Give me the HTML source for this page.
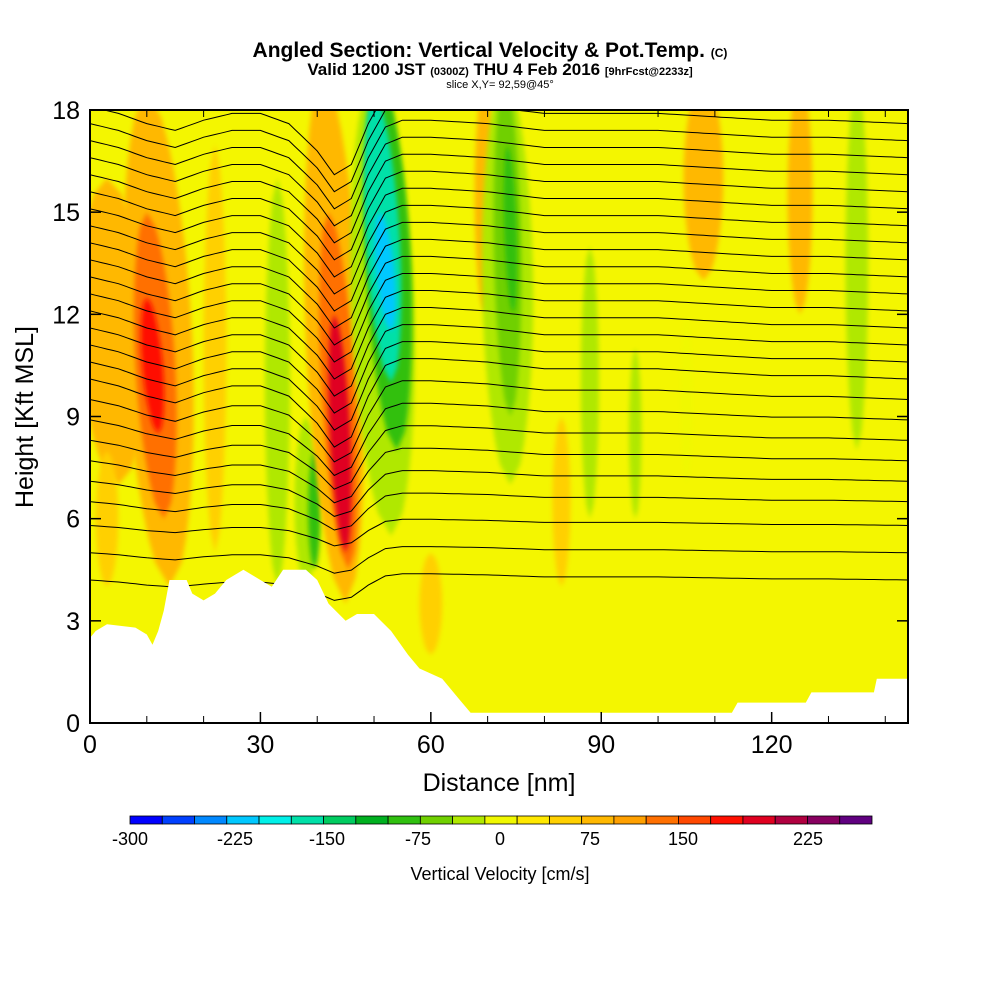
<!DOCTYPE html>
<html><head><meta charset="utf-8"><style>
body{margin:0;background:#fff;width:1000px;height:1000px;overflow:hidden;font-family:"Liberation Sans",sans-serif}
svg text{font-family:"Liberation Sans",sans-serif}
</style></head><body>
<svg id="chart" width="1000" height="1000" viewBox="0 0 1000 1000" xmlns="http://www.w3.org/2000/svg">
<defs>
<clipPath id="pc"><rect x="90" y="110" width="818" height="613"/></clipPath>
<filter id="bl" x="-50%" y="-20%" width="200%" height="140%"><feGaussianBlur stdDeviation="2.5"/></filter>
</defs>
<g>
<text x="490" y="57" text-anchor="middle" font-size="21" font-weight="bold">Angled Section: Vertical Velocity &amp; Pot.Temp. <tspan font-size="12">(C)</tspan></text>
<text x="500" y="75" text-anchor="middle" font-size="17" font-weight="bold">Valid 1200 JST <tspan font-size="11">(0300Z)</tspan> THU 4 Feb 2016 <tspan font-size="11">[9hrFcst@2233z]</tspan></text>
<text x="500" y="88" text-anchor="middle" font-size="11">slice X,Y= 92,59@45°</text>
</g>
<rect x="90" y="110" width="818" height="613" fill="#f4f600"/>
<g id="field" clip-path="url(#pc)"></g>
<g id="cont" clip-path="url(#pc)" fill="none" stroke="#000" stroke-width="1"></g>
<g id="terr" clip-path="url(#pc)"></g>
<rect x="90" y="110" width="818" height="613" fill="none" stroke="#000" stroke-width="2"/>
<g id="axes"></g>
<text x="499" y="791" text-anchor="middle" font-size="25">Distance [nm]</text>
<text transform="translate(33,417) rotate(-90)" text-anchor="middle" font-size="25">Height [Kft MSL]</text>
<g id="cbar"></g>
<text x="500" y="880" text-anchor="middle" font-size="18">Vertical Velocity [cm/s]</text>
</svg>
<script>
// ---- data ----
const xTicks=[0,30,60,90,120];
const yTicks=[0,3,6,9,12,15,18];
const cbColors=["#0000ff","#0040ff","#0088ff","#00c8ff","#00f0e8","#00e0a8","#00cc60","#00b020","#30c010","#70d000","#b0e800","#f0f800","#ffe800","#ffd000","#ffb800","#ffa000","#ff7000","#ff4800","#ff1000","#e00020","#b00040","#880060","#600080"];
const cbLabels=[-300,-225,-150,-75,0,75,150,225];
const cbLabelX=[130,235,327,418,500,590,683,808];
// bands: center distance (nm), bottom/top (kft), half width (nm), value (cm/s), slant (nm shift bottom->top)
const bandX=[5,14,13,12,33,38,39.5,45,45.5,45,53,54,53,53,69.5,74,74,74.5,88,96,105,135,108,125,60,83,3,22];
const bandY0=[7,4,6,8.5,4,4,4.5,3.5,4.5,5,5.5,8,10,11.5,12,7,9,12,6,6,7,8,13,12,2,4,4,5];
const bandY1=[16,18.5,15,12.5,16,9,8,19,15,12,19,19,18.5,15,19,19,19,17,14,11,12,19,19,19,5,9,8,17];
const bandW=[6,6,3.5,1.8,2.2,2,1.1,5,3,1.8,5.5,4,3,1.6,1.8,4.5,2.4,1.1,1.6,1.1,1.1,2,3.5,2.2,2,1.6,2,2];
const bandV=[60,60,100,150,-40,-60,-110,60,110,170,-40,-100,-170,-230,60,-40,-80,-110,-40,-40,-30,-60,40,40,30,30,30,30];
const bandS=[-2,-4,-3,-2,0,0,0,-4,-3.5,-2,-3,-3,-3,-2,0,-1,-1,-1,0,0,0,0,0,0,0,0,0,0];
const terrX=[0,1,3,8,10,11,12,13,14,17,18,20,22,24,27,30,32,34,38,40,42,45,47,50,53,56,58,62,65,67,113,114,126,127,138,138.5,144];
const terrY=[2.5,2.7,2.9,2.8,2.6,2.3,2.7,3.3,4.2,4.2,3.8,3.6,3.8,4.2,4.5,4.2,4.0,4.5,4.5,4.2,3.5,3.0,3.2,3.2,2.7,2.0,1.6,1.3,0.7,0.3,0.3,0.6,0.6,0.9,0.9,1.3,1.3];
const contLevels=[4.2,5.0,5.8,6.5,7.1,7.7,8.3,8.9,9.5,10.1,10.6,11.1,11.6,12.1,12.6,13.1,13.6,14.1,14.6,15.1,15.6,16.1,16.6,17.1,17.6,18.1];
const contNodeX=[0,5,10,15,20,25,30,35,40,43,46,49,52,55,60,70,80,90,100,110,120,130,144];
const contNodeOff=[0,-0.2,-0.5,-0.7,-0.4,-0.2,-0.2,-0.5,-1.3,-2.0,-1.7,-0.5,0.4,0.6,0.6,0.5,0.3,0.3,0.3,0.2,0.1,0.1,0];
// ---- axes functions ----
const X=d=>90+d*818/144, Y=h=>723-h*613/18;
const NS="http://www.w3.org/2000/svg";
function mk(t,a,p){const e=document.createElementNS(NS,t);for(const k in a)e.setAttribute(k,a[k]);p.appendChild(e);return e;}
function colorOf(v){let i=Math.round((v+300)/25);return cbColors[Math.max(0,Math.min(22,i))];}
const field=document.getElementById('field');
for(let i=0;i<bandX.length;i++){
  let pts=[],N=20;
  for(let s=0;s<=N;s++){const t=s/N,h=bandY0[i]+t*(bandY1[i]-bandY0[i]),w=bandW[i]*Math.pow(Math.sin(Math.PI*t),0.5);pts.push([X(bandX[i]+bandS[i]*t+w),Y(h)]);}
  for(let s=N;s>=0;s--){const t=s/N,h=bandY0[i]+t*(bandY1[i]-bandY0[i]),w=bandW[i]*Math.pow(Math.sin(Math.PI*t),0.5);pts.push([X(bandX[i]+bandS[i]*t-w),Y(h)]);}
  const p=mk('polygon',{points:pts.map(q=>q[0].toFixed(1)+','+q[1].toFixed(1)).join(' '),fill:colorOf(bandV[i]),filter:'url(#bl)'},field);
  
  
}
function interp(xs,ys,x){for(let i=0;i<xs.length-1;i++){if(x<=xs[i+1]){const t=(x-xs[i])/(xs[i+1]-xs[i]);return ys[i]+t*(ys[i+1]-ys[i]);}}return ys[ys.length-1];}
const cont=document.getElementById('cont');
contLevels.forEach(L=>{
  let d='';const sc=Math.min(1,Math.max(0.3,(L-4)/6));
  for(let x=0;x<=144;x+=1){const h=L+interp(contNodeX,contNodeOff,x)*sc;d+=(x?'L':'M')+X(x).toFixed(1)+','+Y(h).toFixed(1);}
  const p=mk('path',{d:d},cont);
  
  
});
const terr=document.getElementById('terr');
let td='M'+X(0)+','+Y(0);terrX.forEach((x,i)=>{td+='L'+X(x).toFixed(1)+','+Y(terrY[i]).toFixed(1);});td+='L'+X(144)+','+Y(0)+'Z';
const tp=mk('path',{d:td,fill:'#fff',stroke:'none'},terr);


const axes=document.getElementById('axes');
xTicks.forEach(v=>{mk('line',{x1:X(v),x2:X(v),y1:723,y2:712,stroke:'#000','stroke-width':1.5},axes);
  const t=mk('text',{x:X(v),y:753,'text-anchor':'middle','font-size':25},axes);t.textContent=v;
  });
for(let v=10;v<144;v+=10){if(v%30){mk('line',{x1:X(v),x2:X(v),y1:723,y2:716,stroke:'#000'},axes);mk('line',{x1:X(v),x2:X(v),y1:110,y2:117,stroke:'#000'},axes);}}
yTicks.forEach(v=>{mk('line',{x1:90,x2:101,y1:Y(v),y2:Y(v),stroke:'#000','stroke-width':1.5},axes);mk('line',{x1:908,x2:897,y1:Y(v),y2:Y(v),stroke:'#000','stroke-width':1.5},axes);
  const t=mk('text',{x:80,y:Y(v)+9,'text-anchor':'end','font-size':25},axes);t.textContent=v;
  });
const cb=document.getElementById('cbar');const bw=742/23;
cbColors.forEach((c,i)=>{const r=mk('rect',{x:130+i*bw,y:816,width:bw,height:8,fill:c,stroke:'#000','stroke-width':0.8},cb);
  });
cbLabels.forEach((v,i)=>{const t=mk('text',{x:cbLabelX[i],y:845,'text-anchor':'middle','font-size':18},cb);t.textContent=v;
  });
</script>
</body></html>
